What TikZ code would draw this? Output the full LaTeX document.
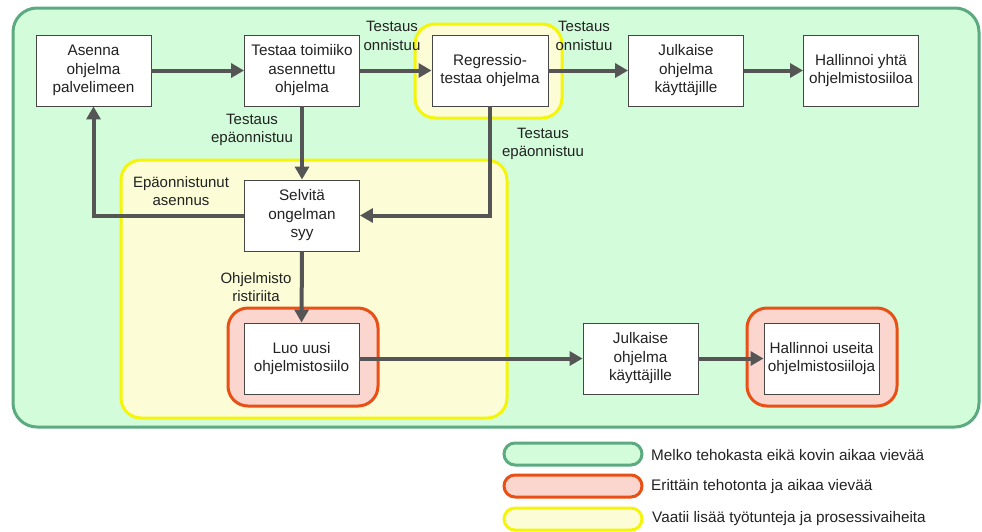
\documentclass[tikz,border=0pt]{standalone}
\usepackage{fontspec}
\setmainfont{Liberation Sans}
\usetikzlibrary{arrows.meta}

\definecolor{zoneGreenFill}{RGB}{210,252,218}
\definecolor{zoneGreenLine}{RGB}{92,170,128}
\definecolor{zoneYellowFill}{RGB}{252,253,214}
\definecolor{zoneYellowLine}{RGB}{245,245,10}
\definecolor{zoneRedFill}{RGB}{250,214,206}
\definecolor{zoneRedLine}{RGB}{232,80,22}
\definecolor{flowGray}{RGB}{85,85,85}
\definecolor{boxLine}{RGB}{70,70,70}
\definecolor{txt}{RGB}{34,34,34}

\tikzset{
  stepbox/.style={draw=boxLine, line width=0.9pt, fill=white, align=center,
    minimum width=115pt, minimum height=71pt, inner sep=2pt,
    font=\fontsize{15.3}{18.5}\selectfont, text=txt},
  flow/.style={draw=flowGray, line width=4pt,
    -{Triangle[length=13pt,width=14pt]}},
  lbl/.style={align=center, inner sep=0pt, text=txt,
    font=\fontsize{15}{18.5}\selectfont},
  legtxt/.style={anchor=west, inner sep=0pt, text=txt,
    font=\fontsize{15.3}{18}\selectfont},
  greenzone/.style={draw=zoneGreenLine, fill=zoneGreenFill, line width=3pt},
  yellowzone/.style={draw=zoneYellowLine, fill=zoneYellowFill, line width=3pt},
  redzone/.style={draw=zoneRedLine, fill=zoneRedFill, line width=3pt},
}

\begin{document}
\begin{tikzpicture}[x=1pt, y=-1pt]
  \useasboundingbox (0,0) rectangle (982,531);

  % background zones
  \draw[greenzone, rounded corners=24pt] (13,8) rectangle (979,427);
  \draw[yellowzone, rounded corners=20pt] (415,24) rectangle (562,118);
  \draw[yellowzone, rounded corners=20pt] (121,160) rectangle (507,418);
  \draw[redzone, rounded corners=20pt] (228,308) rectangle (378,406);
  \draw[redzone, rounded corners=20pt] (747,308) rectangle (897,406);

  % process steps
  \node[stepbox] (asenna)   at (93.5,70.5)  {Asenna\\ohjelma\\palvelimeen};
  \node[stepbox] (testaa)   at (302,70.5)   {Testaa toimiiko\\asennettu\\ohjelma};
  \node[stepbox, minimum width=116pt] (regressio) at (490,70.5) {Regressio-\\testaa ohjelma};
  \node[stepbox] (julkaisa) at (686,70.5)   {Julkaise\\ohjelma\\käyttäjille};
  \node[stepbox] (yksi)     at (861,70.5)   {Hallinnoi yhtä\\ohjelmistosiiloa};
  \node[stepbox] (selvita)  at (302,215.5)  {Selvitä\\ongelman\\syy};
  \node[stepbox] (luo)      at (301.5,358.5){Luo uusi\\ohjelmistosiilo};
  \node[stepbox] (julkaisb) at (640.5,358.5){Julkaise\\ohjelma\\käyttäjille};
  \node[stepbox] (useita)   at (821.5,358.5){Hallinnoi useita\\ohjelmistosiiloja};

  % connectors
  \draw[flow] (asenna.east) -- (testaa.west);
  \draw[flow] (testaa.east) -- (regressio.west);
  \draw[flow] (regressio.east) -- (julkaisa.west);
  \draw[flow] (julkaisa.east) -- (yksi.west);
  \draw[flow] (testaa.south) -- (selvita.north);
  \draw[flow] (regressio.south) |- (selvita.east);
  \draw[flow] (selvita.west) -| (asenna.south);
  \draw[flow] (selvita.south) -- (luo.north);
  \draw[flow] (luo.east) -- (julkaisb.west);
  \draw[flow] (julkaisb.east) -- (useita.west);

  % connector labels
  \node[lbl] (l1) at (392,36)  {Testaus\\onnistuu};
  \node[lbl] (l2) at (584,36)  {Testaus\\onnistuu};
  \node[lbl] (l3) at (252,130) {Testaus\\epäonnistuu};
  \node[lbl] (l4) at (543,144) {Testaus\\epäonnistuu};
  \node[lbl] (l5) at (181,191) {Epäonnistunut\\asennus};
  \node[lbl] (l6) at (256,287) {Ohjelmisto\\ristiriita};

  % legend
  \draw[greenzone, rounded corners=11pt] (504,443) rectangle (642,465);
  \draw[redzone, rounded corners=11pt] (504,475) rectangle (642,497);
  \draw[yellowzone, rounded corners=11pt] (504,508) rectangle (642,530);
  \node[legtxt] (g1) at (651,455) {Melko tehokasta eikä kovin aikaa vievää};
  \node[legtxt] (g2) at (651,487) {Erittäin tehotonta ja aikaa vievää};
  \node[legtxt] (g3) at (652,519) {Vaatii lisää työtunteja ja prosessivaiheita};
\end{tikzpicture}
\end{document}
